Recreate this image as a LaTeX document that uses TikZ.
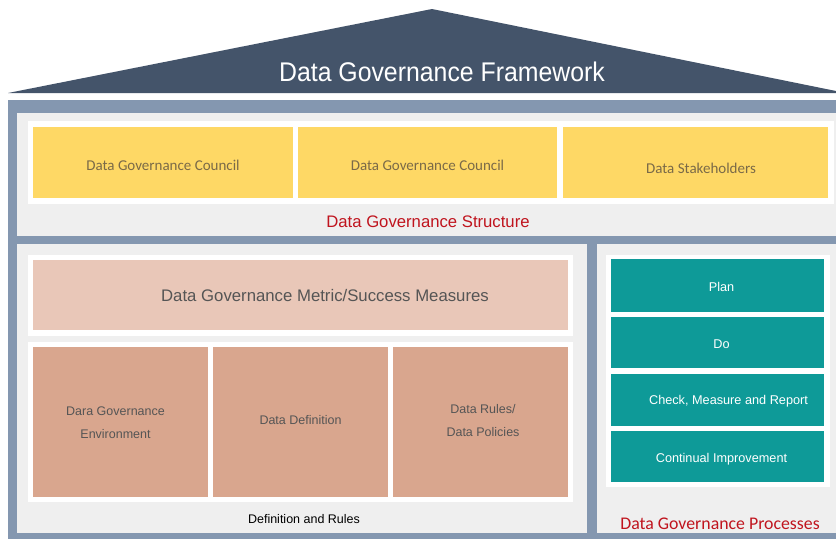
\documentclass[tikz,border=0pt]{standalone}
\usepackage{fontspec}
\setmainfont{Liberation Sans}
\newfontfamily\calfont{Carlito}
\newfontfamily\titlefont[FakeStretch=0.92]{Liberation Sans}
\newcommand\vsh[2]{\raisebox{#1}[\height][\depth]{#2}}
\definecolor{roof}{HTML}{44546A}
\definecolor{frame}{HTML}{8497B0}
\definecolor{panel}{HTML}{EFEFEF}
\definecolor{yel}{HTML}{FED865}
\definecolor{yeltext}{HTML}{7A6A48}
\definecolor{lsalmon}{HTML}{E9C7B8}
\definecolor{salmon}{HTML}{D9A68E}
\definecolor{teal}{HTML}{0E9A98}
\definecolor{dgred}{HTML}{C0141E}
\definecolor{gtext}{HTML}{555555}
\begin{document}
\begin{tikzpicture}[x=1pt,y=-1pt,
  box/.style={draw=none,inner sep=0pt,align=center},
  ybox/.style={box,fill=yel,text=yeltext,font=\calfont\fontsize{15}{17}\selectfont,minimum height=71pt},
  sbox/.style={box,fill=salmon,text=gtext,font=\fontsize{12.5}{23}\selectfont,minimum width=175pt,minimum height=150pt},
  tbox/.style={box,fill=teal,text=white,font=\fontsize{12.7}{14}\selectfont,minimum width=213pt},
  lbl/.style={inner sep=0pt}]
\useasboundingbox (0,0) rectangle (836,539);
\fill[white] (0,0) rectangle (836,539);
% roof
\fill[roof] (8,93) -- (432,9) -- (836,91) -- (836,93) -- cycle;
\node[lbl,text=white,font=\titlefont\fontsize{27}{30}\selectfont] (title) at (442,72) {Data Governance Framework};
% frame
\fill[frame] (8,100) rectangle (836,539);
\fill[panel] (17,113) rectangle (836,236);
\fill[panel] (17,244) rectangle (587,533);
\fill[panel] (597,244) rectangle (836,533);
% structure
\fill[white] (28,121) rectangle (834,204);
\node[ybox,minimum width=260pt] (c1) at (163,162.5) {\vsh{-3pt}{Data Governance Council}};
\node[ybox,minimum width=259pt] (c2) at (427.5,162.5) {\vsh{-3pt}{Data Governance Council}};
\node[ybox,minimum width=265pt] (st) at (695.5,162.5) {\hspace{11pt}\vsh{-5.5pt}{Data Stakeholders}};
\node[lbl,text=dgred,font=\fontsize{16.7}{18}\selectfont] (dgs) at (428,221.5) {Data Governance Structure};
% metric
\fill[white] (28,255) rectangle (573,336);
\node[box,fill=lsalmon,text=gtext,font=\fontsize{16.75}{18}\selectfont,minimum width=535pt,minimum height=70pt] (metric) at (300.5,295) {\hspace{49pt}\vsh{-1pt}{Data Governance Metric/Success Measures}};
% lower boxes
\fill[white] (28,342) rectangle (573,502);
\node[sbox] (env) at (120.5,422) {\hspace{-10pt}\begin{tabular}{@{}c@{}}Dara Governance\\Environment\end{tabular}};
\node[sbox] (def) at (300.5,422) {\vsh{2pt}{Data Definition}};
\node[sbox] (rules) at (480.5,422) {\hspace{5pt}\vsh{2pt}{\begin{tabular}{@{}c@{}}Data Rules/\\Data Policies\end{tabular}}};
\node[lbl,text=black,font=\fontsize{12.5}{14}\selectfont] (dr) at (304,519) {Definition and Rules};
% processes
\fill[white] (606,255) rectangle (830,487);
\node[tbox,minimum height=53pt] (plan) at (717.5,285.5) {\hspace{8pt}\vsh{-1.5pt}{Plan}};
\node[tbox,minimum height=51pt] (do) at (717.5,342.5) {\hspace{8pt}\vsh{-1.5pt}{Do}};
\node[tbox,minimum height=52pt] (check) at (717.5,400) {\hspace{22pt}\vsh{-1.5pt}{Check, Measure and Report}};
\node[tbox,minimum height=51pt] (ci) at (717.5,456.5) {\hspace{8pt}\vsh{-2.5pt}{Continual Improvement}};
\node[lbl,text=dgred,font=\calfont\fontsize{17.8}{20}\selectfont] (dgp) at (720,524) {Data Governance Processes};
\end{tikzpicture}
\end{document}
